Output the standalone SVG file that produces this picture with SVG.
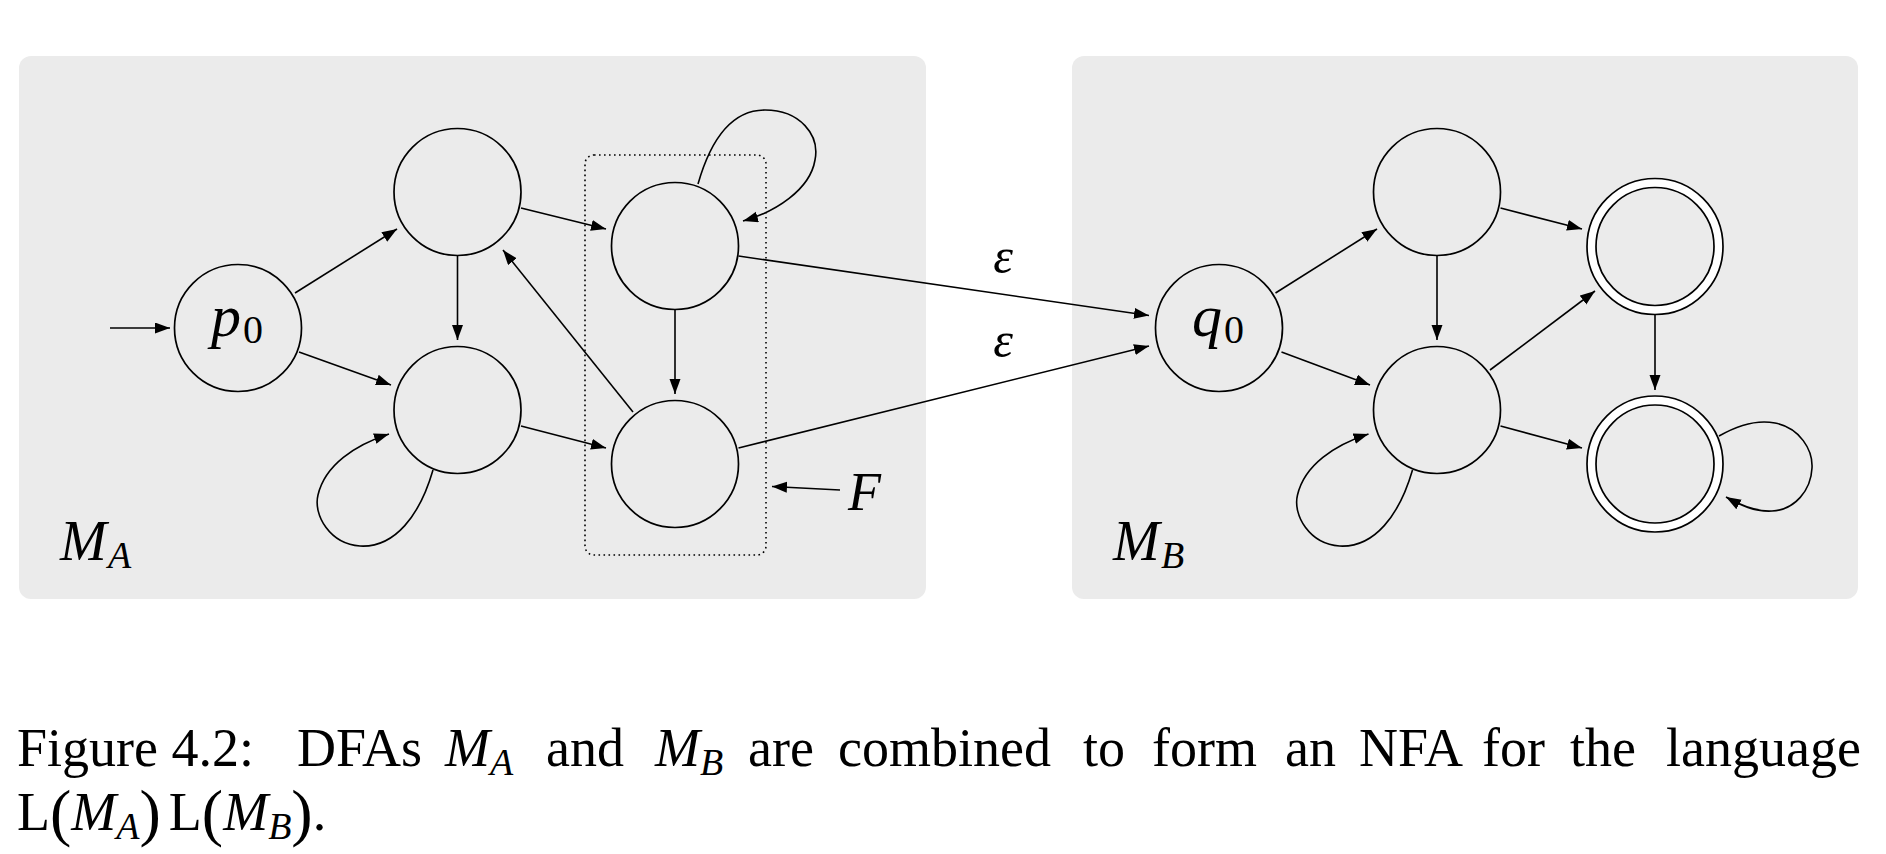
<svg xmlns="http://www.w3.org/2000/svg" width="1886" height="854" viewBox="0 0 1886 854">
<defs>
<marker id="ah" markerUnits="userSpaceOnUse" markerWidth="16" markerHeight="12" refX="15" refY="5.5" orient="auto">
<path d="M0,0 L15,5.5 L0,11 Z" fill="#000"/>
</marker>
<style>
.panel{fill:#ebebeb;stroke:none}
.st{fill:#ebebeb;stroke:#000;stroke-width:1.7}
.outer{fill:#fff;stroke:#000;stroke-width:1.7}
.e{fill:none;stroke:#000;stroke-width:1.6;marker-end:url(#ah)}
.dot{fill:none;stroke:#000;stroke-width:1.6;stroke-dasharray:1.6 3.4}
.m{font-family:"Liberation Serif",serif;font-style:italic;fill:#000}
.r{font-family:"Liberation Serif",serif;fill:#000}
.cap{font-family:"Liberation Serif",serif;font-size:54px;fill:#000}
</style>
</defs>
<rect width="1886" height="854" fill="#fff"/>
<rect id="panelA" class="panel" x="19" y="56" width="907" height="543" rx="12"/>
<rect id="panelB" class="panel" x="1072" y="56" width="786" height="543" rx="12"/>
<rect id="F-box" class="dot" x="585" y="155" width="181" height="400" rx="9"/>

<g id="connectors">
<line class="e" x1="110" y1="328" x2="170" y2="328"/>
<line class="e" x1="295" y1="293" x2="397" y2="229"/>
<line class="e" x1="299" y1="352" x2="391" y2="385"/>
<line class="e" x1="457.5" y1="256" x2="457.5" y2="340"/>
<line class="e" x1="521" y1="208" x2="606" y2="229"/>
<line class="e" x1="521" y1="426" x2="606" y2="448"/>
<line class="e" x1="633" y1="412" x2="503" y2="250"/>
<line class="e" x1="675" y1="310" x2="675" y2="394"/>
<path class="e" d="M698,184 C712,135 735,110 765,110 C800,110 820,135 815,160 C810,190 775,212 743,221"/>
<path class="e" d="M433,470 C420,515 395,548 360,546 C330,544 313,515 318,495 C325,465 355,445 389,434"/>
<line class="e" x1="840" y1="490" x2="772" y2="486.5"/>
<line class="e" x1="738.5" y1="256" x2="1149" y2="315.5"/>
<line class="e" x1="738.5" y1="448" x2="1149" y2="346"/>
<line class="e" x1="1275.5" y1="293" x2="1377" y2="229"/>
<line class="e" x1="1281.5" y1="352" x2="1370" y2="385"/>
<line class="e" x1="1437" y1="256" x2="1437" y2="340"/>
<line class="e" x1="1500.5" y1="208" x2="1582" y2="229"/>
<line class="e" x1="1490" y1="370" x2="1595" y2="291"/>
<line class="e" x1="1500.5" y1="426" x2="1582" y2="448"/>
<line class="e" x1="1655" y1="315" x2="1655" y2="390"/>
<path class="e" d="M1412.5,470 C1399.5,515 1374.5,548 1339.5,546 C1309.5,544 1292.5,515 1297.5,495 C1304.5,465 1334.5,445 1368.5,434"/>
<path class="e" d="M1719,436 C1740,424 1760,420 1775,423 C1800,428 1813,450 1812,468 C1811,490 1795,510 1772,511 C1755,512 1740,505 1726,497"/>
</g>

<g id="p0"><circle class="st" cx="238" cy="328" r="63.5"/>
<text class="m" x="211" y="336" font-size="60">p</text><text class="r" x="243" y="343" font-size="40">0</text></g>
<g id="a1"><circle class="st" cx="457.5" cy="192" r="63.5"/></g>
<g id="a2"><circle class="st" cx="457.5" cy="410" r="63.5"/></g>
<g id="a3"><circle class="st" cx="675" cy="246" r="63.5"/></g>
<g id="a4"><circle class="st" cx="675" cy="464" r="63.5"/></g>

<g id="q0"><circle class="st" cx="1219" cy="328" r="63.5"/>
<text class="m" x="1192" y="336" font-size="60">q</text><text class="r" x="1224" y="343" font-size="40">0</text></g>
<g id="b1"><circle class="st" cx="1437" cy="192" r="63.5"/></g>
<g id="b2"><circle class="st" cx="1437" cy="410" r="63.5"/></g>
<g id="b3"><circle class="outer" cx="1655" cy="246.5" r="68"/><circle class="st" cx="1655" cy="246.5" r="59"/></g>
<g id="b4"><circle class="outer" cx="1655" cy="464" r="68"/><circle class="st" cx="1655" cy="464" r="59"/></g>

<g id="labels">
<text class="m" x="1003" y="273" font-size="50" text-anchor="middle">ε</text>
<text class="m" x="1003" y="357" font-size="50" text-anchor="middle">ε</text>
<text class="m" x="848" y="510" font-size="54">F</text>
<text class="m" x="60" y="560" font-size="56">M</text><text class="m" x="108" y="568" font-size="38">A</text>
<text class="m" x="1113" y="560" font-size="56">M</text><text class="m" x="1161" y="568" font-size="38">B</text>
</g>

<g id="caption" class="cap">
<text x="17" y="766">Figure 4.2:</text>
<text x="297" y="766">DFAs</text>
<text x="445" y="766" font-style="italic">M</text><text x="490" y="775" font-size="38" font-style="italic">A</text>
<text x="546" y="766">and</text>
<text x="655" y="766" font-style="italic">M</text><text x="700" y="775" font-size="38" font-style="italic">B</text>
<text x="748" y="766">are</text>
<text x="838" y="766">combined</text>
<text x="1083" y="766">to</text>
<text x="1152" y="766">form</text>
<text x="1285" y="766">an</text>
<text x="1359" y="766">NFA</text>
<text x="1482" y="766">for</text>
<text x="1570" y="766">the</text>
<text x="1666" y="766">language</text>
<text x="17" y="830">L<tspan font-size="64" dy="4">(</tspan><tspan font-style="italic" dy="-4">M</tspan><tspan font-size="38" font-style="italic" dy="9">A</tspan><tspan font-size="64" dy="-5">)</tspan><tspan dy="-4" dx="8">L</tspan><tspan font-size="64" dy="4">(</tspan><tspan font-style="italic" dy="-4">M</tspan><tspan font-size="38" font-style="italic" dy="9">B</tspan><tspan font-size="64" dy="-5">)</tspan><tspan dy="-4">.</tspan></text>
</g>
</svg>
